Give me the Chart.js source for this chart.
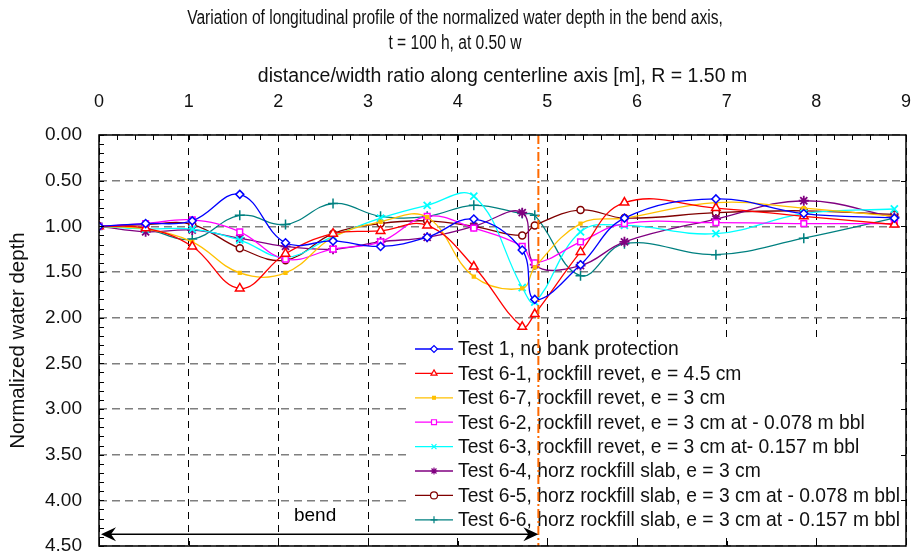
<!DOCTYPE html>
<html>
<head>
<meta charset="utf-8">
<script src="https://cdn.jsdelivr.net/npm/chart.js@4.4.0/dist/chart.umd.min.js"></script>
<style>
  html, body { margin: 0; padding: 0; background: #fff; }
</style>
</head>
<body>
<canvas id="profil" width="921" height="555"></canvas>
<script>
// distance/width stations along the centerline
var stations = [0, 0.52, 1.04, 1.57, 2.08, 2.61, 3.14, 3.66, 4.18, 4.72, 4.86, 5.37, 5.86, 6.88, 7.86, 8.87];

// normalized water depth for each test
var test1  = [1.00, 0.97, 0.94, 0.65, 1.18, 1.16, 1.22, 1.12, 0.92, 1.26, 1.80, 1.42, 0.91, 0.70, 0.86, 0.91];
var test61 = [1.00, 1.02, 1.22, 1.68, 1.30, 1.08, 1.05, 0.99, 1.44, 2.10, 1.96, 1.28, 0.74, 0.80, 0.89, 0.98];
var test67 = [1.00, 1.03, 1.17, 1.51, 1.51, 1.12, 0.95, 0.90, 1.55, 1.68, 1.45, 0.97, 0.91, 0.74, 0.80, 0.89];
var test62 = [1.00, 0.97, 0.93, 1.06, 1.36, 1.25, 1.17, 0.89, 1.02, 1.22, 1.40, 1.17, 0.97, 0.96, 0.97, 0.97];
var test63 = [1.00, 1.03, 1.03, 1.15, 1.34, 1.11, 0.91, 0.77, 0.67, 1.67, 1.83, 1.06, 0.99, 1.08, 0.86, 0.81];
var test64 = [1.00, 1.06, 1.04, 1.13, 1.22, 1.25, 1.17, 1.12, 1.00, 0.85, 1.42, 1.43, 1.17, 0.92, 0.72, 0.90];
var test65 = [1.00, 0.98, 0.98, 1.24, 1.37, 1.08, 0.97, 0.94, 1.00, 1.10, 0.99, 0.82, 0.91, 0.85, 0.83, 0.87];
var test66 = [1.00, 1.03, 1.14, 0.88, 0.98, 0.75, 0.89, 0.89, 0.77, 0.86, 0.88, 1.54, 1.19, 1.31, 1.13, 0.91];

var legendLabels = [
    'Test 1, no bank protection',
    'Test 6-1, rockfill revet, e = 4.5 cm',
    'Test 6-7, rockfill revet, e = 3 cm',
    'Test 6-2, rockfill revet, e = 3 cm at - 0.078 m bbl',
    'Test 6-3, rockfill revet, e = 3 cm at- 0.157 m bbl',
    'Test 6-4, horz rockfill slab, e = 3 cm',
    'Test 6-5, horz rockfill slab, e = 3 cm at - 0.078 m bbl',
    'Test 6-6, horz rockfill slab, e = 3 cm at - 0.157 m bbl'
];
var xTicks = [0, 1, 2, 3, 4, 5, 6, 7, 8, 9];

var bendEnd = 4.90;       // end of the bend (dash-dot line)
var bendArrowDepth = 4.37;
var bendLabelAt = [2.41, 4.17];

function pts(vals) {
    return stations.map(function (x, i) { return { x: x, y: vals[i] }; });
}

function serie(label, vals, color, style, radius, filled, bw) {
    return {
        label: label,
        data: pts(vals),
        borderColor: color,
        borderWidth: 1.3,
        tension: 0.4,
        pointStyle: style,
        pointRadius: radius,
        pointBorderWidth: bw || 1.5,
        pointBorderColor: color,
        pointBackgroundColor: filled ? color : '#ffffff',
        fill: false
    };
}

var sans = "'Liberation Sans', Arial, sans-serif";

// titre, légende, ligne de fin de courbe, cadre
var decorPlugin = {
    id: 'decor',
    afterDatasetsDraw: function (chart) {
        var c = chart.ctx, a = chart.chartArea;
        var xs = chart.scales.x, ys = chart.scales.y;
        c.save();

        // legend box
        c.fillStyle = '#ffffff';
        c.fillRect(a.left + 311, 337, a.right - a.left - 312, 200);
        var lx = a.left + 316, ly = 349;
        chart.data.datasets.forEach(function (ds, i) {
            var y = ly + i * 24.4;
            c.strokeStyle = ds.borderColor;
            c.lineWidth = 1.3;
            c.beginPath(); c.moveTo(lx, y); c.lineTo(lx + 38, y); c.stroke();
            c.fillStyle = ds.pointBackgroundColor;
            c.strokeStyle = ds.pointBorderColor;
            c.lineWidth = 1.2;
            Chart.helpers.drawPoint(c, {
                pointStyle: ds.pointStyle, radius: Math.min(ds.pointRadius, 3.5),
                rotation: 0, borderWidth: 1.2
            }, lx + 19, y);
            c.fillStyle = '#111';
            c.font = '19.3px ' + sans;
            c.textBaseline = 'middle';
            c.textAlign = 'left';
            c.fillText(ds.label, lx + 43, y + 1);
        });

        // orange dash-dot line at the bend exit
        var bx = xs.getPixelForValue(bendEnd);
        c.strokeStyle = '#FF6A00';
        c.lineWidth = 2;
        c.setLineDash([9, 3, 2, 3]);
        c.beginPath(); c.moveTo(bx, a.top); c.lineTo(bx, a.bottom); c.stroke();
        c.setLineDash([]);

        // bend arrow
        var ay = ys.getPixelForValue(bendArrowDepth);
        var x0 = xs.getPixelForValue(0) + 2;
        c.strokeStyle = '#000'; c.fillStyle = '#000'; c.lineWidth = 1.5;
        c.beginPath(); c.moveTo(x0 + 6, ay); c.lineTo(bx - 6, ay); c.stroke();
        c.beginPath(); c.moveTo(x0, ay); c.lineTo(x0 + 15, ay - 7); c.lineTo(x0 + 10, ay); c.lineTo(x0 + 15, ay + 7); c.closePath(); c.fill();
        c.beginPath(); c.moveTo(bx, ay); c.lineTo(bx - 15, ay - 7); c.lineTo(bx - 10, ay); c.lineTo(bx - 15, ay + 7); c.closePath(); c.fill();
        c.font = '19px ' + sans;
        c.textAlign = 'center'; c.textBaseline = 'middle';
        c.fillText('bend', xs.getPixelForValue(bendLabelAt[0]), ys.getPixelForValue(bendLabelAt[1]));

        // frame and minor ticks
        c.strokeStyle = '#000'; c.lineWidth = 1.5;
        c.strokeRect(a.left, a.top, a.right - a.left, a.bottom - a.top);
        c.lineWidth = 1;
        c.beginPath();
        for (var v = 0; v <= 9.001; v += 0.2) {
            var px = Math.round(xs.getPixelForValue(v)) + 0.5;
            c.moveTo(px, a.top); c.lineTo(px, a.top + 5);
        }
        for (var k = 1; k < 9; k++) {
            var qx = Math.round(xs.getPixelForValue(k)) + 0.5;
            c.moveTo(qx, a.bottom); c.lineTo(qx, a.bottom - 5);
        }
        for (var w = 0; w <= 4.501; w += 0.1) {
            var py = Math.round(ys.getPixelForValue(w)) + 0.5;
            c.moveTo(a.left, py); c.lineTo(a.left + 5, py);
        }
        for (var u = 0.5; u < 4.5; u += 0.5) {
            var ry = Math.round(ys.getPixelForValue(u)) + 0.5;
            c.moveTo(a.right, ry); c.lineTo(a.right - 5, ry);
        }
        c.stroke();

        // chart title (condensed, like the original narrow face)
        c.fillStyle = '#111';
        c.font = '20px ' + sans;
        c.textAlign = 'center'; c.textBaseline = 'middle';
        c.translate(455, 0);
        c.scale(0.78, 1);
        c.fillText('Variation of longitudinal profile of the normalized water depth in the bend axis,', 0, 18);
        c.fillText('t = 100 h, at 0.50 w', 0, 43);
        c.restore();
    }
};

new Chart(document.getElementById('profil').getContext('2d'), {
    type: 'line',
    data: {
        datasets: [
            serie(legendLabels[0], test1,  '#0000FF', 'rectRot', 4, false),
            serie(legendLabels[1], test61, '#FF0000', 'triangle', 5, false),
            serie(legendLabels[2], test67, '#FFC000', 'rect', 2, true),
            serie(legendLabels[3], test62, '#FF00FF', 'rect', 4, false),
            serie(legendLabels[4], test63, '#00FFFF', 'crossRot', 5, false, 1.8),
            serie(legendLabels[5], test64, '#800080', 'star', 5, false, 1.8),
            serie(legendLabels[6], test65, '#800000', 'circle', 3.5, false),
            serie(legendLabels[7], test66, '#008080', 'cross', 5, false, 1.5)
        ]
    },
    options: {
        responsive: false,
        animation: false,
        events: [],
        layout: { padding: { top: 60, right: 15, bottom: 9, left: 0 } },
        plugins: {
            legend: { display: false },
            title: { display: false },
            tooltip: { enabled: false }
        },
        scales: {
            x: {
                type: 'linear',
                position: 'top',
                min: 0, max: 9,
                afterFit: function (s) { s.height = 75; s.paddingLeft = 0; s.paddingRight = 0; },
                afterBuildTicks: function (s) { s.ticks = xTicks.map(function (v) { return { value: v }; }); },
                ticks: {
                    padding: 22,
                    color: '#111',
                    font: { family: sans, size: 18 },
                    callback: function (v) { return String(v); }
                },
                grid: { color: '#000', lineWidth: 1, drawTicks: false },
                border: { display: false, dash: [7, 6] },
                title: {
                    display: true,
                    text: 'distance/width ratio along centerline axis [m], R = 1.50 m',
                    color: '#111',
                    font: { family: sans, size: 19.5 },
                    padding: { top: 5, bottom: 0 }
                }
            },
            y: {
                reverse: true,
                min: 0, max: 4.5,
                afterFit: function (s) { s.width = 99; s.paddingTop = 0; s.paddingBottom = 0; },
                ticks: {
                    stepSize: 0.5,
                    padding: 17,
                    color: '#111',
                    font: { family: sans, size: 19 },
                    callback: function (v) { return Number(v).toFixed(2); }
                },
                grid: { color: '#7f7f7f', lineWidth: 1.5, drawTicks: false },
                border: { display: false, dash: [8, 5] },
                title: {
                    display: true,
                    text: 'Normalized water depth',
                    color: '#111',
                    font: { family: sans, size: 20.5 },
                    padding: { top: 6, bottom: 0 }
                }
            }
        }
    },
    plugins: [decorPlugin]
});
</script>
</body>
</html>
